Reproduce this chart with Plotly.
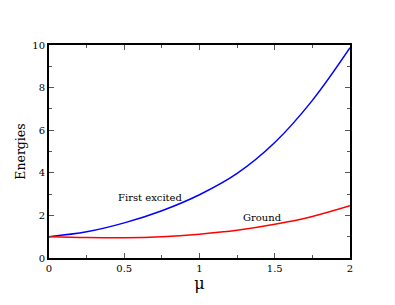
import plotly.graph_objects as go

mu = [0.0, 0.25, 0.5, 0.75, 1.0, 1.25, 1.5, 1.75, 2.0]
first_excited = [1.0, 1.23, 1.65, 2.22, 2.97, 3.97, 5.42, 7.4, 9.87]
ground = [1.0, 0.96, 0.95, 1.0, 1.12, 1.3, 1.58, 1.95, 2.45]

label_first = "First excited"
label_ground = "Ground"

SERIF = "DejaVu Serif"

fig = go.Figure()
fig.add_trace(go.Scatter(x=mu, y=first_excited, mode="lines", line=dict(color="#0000ff", width=1.5, shape="spline", smoothing=1.0), showlegend=False))
fig.add_trace(go.Scatter(x=mu, y=ground, mode="lines", line=dict(color="#ff0000", width=1.5, shape="spline", smoothing=1.0), showlegend=False))

fig.add_annotation(x=0.675, y=2.84, text=label_first, showarrow=False, font=dict(family=SERIF, size=10, color="black"))
fig.add_annotation(x=1.416, y=1.9, text=label_ground, showarrow=False, font=dict(family=SERIF, size=10, color="black"))

axis_common = dict(showgrid=False, zeroline=False, showline=True, linecolor="black", linewidth=2,
                   mirror="allticks", ticks="inside", ticklen=5, tickwidth=1, tickcolor="#555",
                   tickfont=dict(family=SERIF, size=10, color="black"))

fig.update_xaxes(range=[0, 2], tickvals=[0, 0.5, 1, 1.5, 2], ticktext=["0", "0.5", "1", "1.5", "2"],
                 minor=dict(ticks="inside", ticklen=3, tickcolor="#555", dtick=0.25),
                 title=dict(text="μ", font=dict(family=SERIF, size=16, color="black"), standoff=0),
                 **axis_common)
fig.update_yaxes(range=[0, 10], tickvals=[0, 2, 4, 6, 8, 10],
                 minor=dict(ticks="inside", ticklen=3, tickcolor="#555", dtick=1),
                 title=dict(text="Energies", font=dict(family=SERIF, size=12.5, color="black"), standoff=4),
                 **axis_common)

fig.update_layout(width=395, height=305, margin=dict(l=37, r=53, t=37, b=55),
                  plot_bgcolor="white", paper_bgcolor="white", font=dict(family=SERIF))

fig.write_html("out.html")
